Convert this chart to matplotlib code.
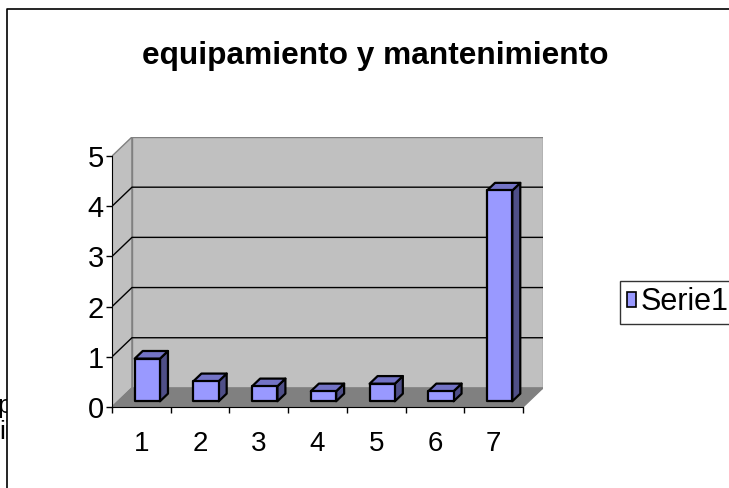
import matplotlib.pyplot as plt
from matplotlib.patches import Polygon, Patch
from matplotlib.lines import Line2D
from matplotlib.transforms import Bbox, TransformedBbox

# data
categories = ['1', '2', '3', '4', '5', '6', '7']
values = [0.85, 0.4, 0.3, 0.2, 0.35, 0.2, 4.2]
y_ticks = [0, 1, 2, 3, 4, 5]
series_name = 'Serie1'
title = 'equipamiento y mantenimiento'

plt.rcParams['font.family'] = ['Liberation Sans', 'DejaVu Sans']

W, H = 729, 488
fig = plt.figure(figsize=(W / 100, H / 100), dpi=100)

# 3d look: depth offset of the walls (data units) and bar geometry
DX, DY = 0.34, 0.38
bar_w = 0.43
bar_d0, bar_d = 0.3, 0.4
n = len(categories)
ymax = max(y_ticks)

# plot area (front plane x 0..n, y 0..ymax), pixels from the reference
left, right, bottom, top = 112, 543, 407, 137
ax = fig.add_axes([left / W, 1 - bottom / H, (right - left) / W, (bottom - top) / H])
ax.set_xlim(0, n + DX)
ax.set_ylim(0, ymax + DY)
ax.patch.set_visible(False)

wall = '#C0C0C0'
floor = '#808080'
# side wall, back wall, floor
ax.add_patch(Polygon([(0, 0), (DX, DY), (DX, ymax + DY), (0, ymax)],
                     facecolor=wall, edgecolor='#808080', lw=1, zorder=1))
ax.add_patch(Polygon([(DX, DY), (n + DX, DY), (n + DX, ymax + DY), (DX, ymax + DY)],
                     facecolor=wall, edgecolor='#808080', lw=1, zorder=1))
ax.add_patch(Polygon([(0, 0), (n, 0), (n + DX, DY), (DX, DY)],
                     facecolor=floor, edgecolor=floor, lw=1, zorder=1))

# gridlines on side and back walls
for v in y_ticks[1:-1]:
    ax.plot([0, DX, n + DX], [v, v + DY, v + DY], color='black', lw=1, zorder=2)

# bars
front_c, top_c, side_c = '#9999FF', '#7373C6', '#4F4F88'
for i, v in enumerate(values):
    x0 = i + 0.5 - bar_w / 2 + bar_d0 * DX
    y0 = bar_d0 * DY
    ddx, ddy = bar_d * DX, bar_d * DY
    x1 = x0 + bar_w
    ax.add_patch(Polygon([(x1, y0), (x1 + ddx, y0 + ddy), (x1 + ddx, y0 + v + ddy), (x1, y0 + v)],
                         facecolor=side_c, edgecolor='black', lw=1.6, joinstyle='round', zorder=3))
    ax.add_patch(Polygon([(x0, y0 + v), (x1, y0 + v), (x1 + ddx, y0 + v + ddy), (x0 + ddx, y0 + v + ddy)],
                         facecolor=top_c, edgecolor='black', lw=1.6, joinstyle='round', zorder=3))
    ax.add_patch(Polygon([(x0, y0), (x1, y0), (x1, y0 + v), (x0, y0 + v)],
                         facecolor=front_c, edgecolor='black', lw=1.6, joinstyle='round', zorder=4))

# axes
for s in ['top', 'right']:
    ax.spines[s].set_visible(False)
ax.spines['left'].set_bounds(0, ymax)
ax.spines['bottom'].set_bounds(0, n)
ax.spines['left'].set_zorder(5)
ax.spines['bottom'].set_zorder(5)
ax.set_yticks(y_ticks)
ax.set_yticklabels([str(t) for t in y_ticks], fontsize=21)
ax.tick_params(axis='y', length=4.3, width=1, pad=1.5)
ax.set_xticks(range(n + 1))
ax.set_xticklabels([])
ax.tick_params(axis='x', which='major', length=4.3, width=1)
ax.set_xticks([i + 0.5 for i in range(n)], minor=True)
ax.set_xticklabels(categories, minor=True, fontsize=20)
ax.tick_params(axis='x', which='minor', length=0, pad=17)

# title
fig.text(375 / W, 1 - 64 / H, title, ha='center', va='baseline',
         fontsize=22.8, fontweight='bold')

# legend
leg = fig.legend(handles=[Patch(facecolor=front_c, edgecolor='black', lw=1.2)],
                 labels=[series_name], loc='center left',
                 bbox_to_anchor=(620 / W, 1 - 302.5 / H), borderaxespad=0,
                 fancybox=False, edgecolor='black', fontsize=22,
                 handlelength=0.3, handleheight=0.4, handletextpad=0.15, borderpad=0.22)
leg.get_frame().set_linewidth(1.0)

# chart area border (right and bottom sides fall off the picture)
fig.add_artist(Line2D([7 / W, 7 / W, 1], [0, 1 - 9 / H, 1 - 9 / H],
                      transform=fig.transFigure, color='black', lw=1.2))

# text of the sheet that sits behind the chart, only its edge is seen
clip = TransformedBbox(Bbox([[0, 0], [7 / W, 1]]), fig.transFigure)
for txt, xx, yy in [('p', -3, 406), ('ii', -1, 432)]:
    t = fig.text(xx / W, 1 - yy / H, txt, ha='left', va='center', fontsize=19)
    t.set_clip_box(clip)
    t.set_clip_on(True)

fig.savefig('out.png', dpi=100)
